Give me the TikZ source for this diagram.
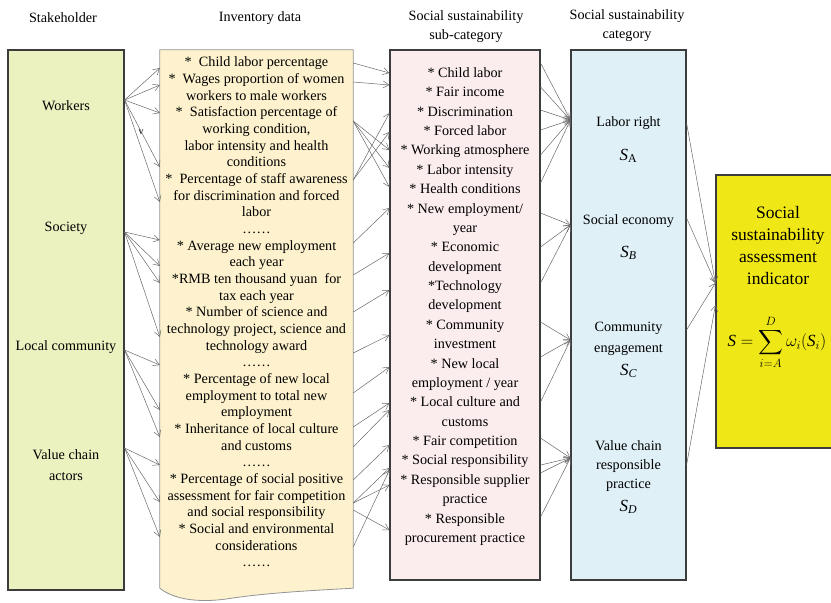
\documentclass[tikz,border=0pt]{standalone}
\usepackage{amsmath}
\usepackage{fontspec}
\setmainfont{Liberation Serif}
\usetikzlibrary{arrows.meta,positioning,calc}
\definecolor{stakegreen}{RGB}{236,241,192}
\definecolor{invyellow}{RGB}{253,242,205}
\definecolor{subpink}{RGB}{251,236,237}
\definecolor{catblue}{RGB}{223,240,246}
\definecolor{indyellow}{RGB}{240,232,22}
\definecolor{linegray}{RGB}{105,105,105}
\definecolor{boxgray}{RGB}{60,60,60}
\newcommand{\moredots}{.\kern1.2pt.\kern1.2pt.\kern1.2pt.\kern1.2pt.\kern1.2pt.}

\begin{document}
\begin{tikzpicture}[x=1pt, y=-1pt, >={Straight Barb[length=6pt,width=7pt]},
    box/.style={draw=boxgray, line width=1.1pt, inner sep=0pt},
    head/.style={align=center, font=\fontsize{14.2}{19}\selectfont},
    lbl/.style={align=center, font=\fontsize{14.2}{20}\selectfont},
    sym/.style={font=\fontsize{17}{20}\selectfont},
    link/.style={->, linegray, line width=0.5pt}]
    \useasboundingbox (0,0) rectangle (831,603);

    \node[head] (hstake) at (63,18) {Stakeholder};
    \node[head] (hinv) at (260,18) {Inventory data};
    \node[head] (hsub) at (466,26.5) {Social sustainability\\sub-category};
    \node[head] (hcat) at (627,26) {Social sustainability\\category};

    \node[box, fill=stakegreen, minimum width=116, minimum height=540] (stake) at (66,320) {};
    \node[minimum width=193, minimum height=538, inner sep=0pt] (inv) at (256.5,319) {};
    \draw[draw=gray!85, line width=0.8pt, fill=invyellow] (inv.south west) -- (inv.north west) -- (inv.north east) -- (inv.south east)
      .. controls +(-55,3) and +(35,-5) .. ($(inv.south)+(-25,10)$)
      .. controls +(-30,5) and +(15,12) .. (inv.south west) -- cycle;
    \node[box, fill=subpink, minimum width=150, minimum height=530] (sub) at (465,315) {};
    \node[box, fill=catblue, minimum width=115, minimum height=530] (cat) at (628.5,315) {};
    \node[box, fill=indyellow, minimum width=124, minimum height=273] (final) at (778,311.5) {};

    \node[lbl] (workers) at (66,106) {Workers};
    \node[lbl] (society) at (66,228) {Society};
    \node[lbl] (local) at (66,347) {Local community};
    \node[lbl, font=\fontsize{14.2}{21}\selectfont] (value) at (66,465.5) {Value chain\\actors};
    \node[font=\fontsize{10}{12}\selectfont] (vmark) at (141,132) {v};

    \node[align=center, font=\fontsize{14.2}{16.67}\selectfont] (invtext) at (256.5,312) {%
      *\ \ Child labor percentage\\
      *\ \ Wages proportion of women\\ workers to male workers\\
      *\ \ Satisfaction percentage of\\ working condition,\\ labor intensity and health\\ conditions\\
      *\ \ Percentage of staff awareness\\ for discrimination and forced\\ labor\\
      \moredots\\
      * Average new employment\\ each year\\
      *RMB ten thousand yuan\ \ for\\ tax each year\\
      * Number of science and\\ technology project, science and\\ technology award\\
      \moredots\\
      * Percentage of new local\\ employment to total new\\ employment\\
      * Inheritance of local culture\\ and customs\\
      \moredots\\
      * Percentage of social positive\\ assessment for fair competition\\ and social responsibility\\
      * Social and environmental\\ considerations\\
      \moredots};

    \node[align=center, font=\fontsize{14.2}{19.375}\selectfont] (subtext) at (465,306.5) {%
      * Child labor\\ * Fair income\\ * Discrimination\\ * Forced labor\\
      * Working atmosphere\\ * Labor intensity\\ * Health conditions\\
      * New employment/\\ year\\ * Economic\\ development\\ *Technology\\ development\\
      * Community\\ investment\\ * New local\\ employment / year\\
      * Local culture and\\ customs\\ * Fair competition\\ * Social responsibility\\
      * Responsible supplier\\ practice\\ * Responsible\\ procurement practice};

    \node[lbl] (labor) at (628.5,123) {Labor right};
    \node[sym] (sa) at (628.5,156) {$\mathit{S}_{\mathrm{A}}$};
    \node[lbl] (econ) at (628.5,221) {Social economy};
    \node[sym] (sb) at (628.5,253) {$\mathit{S}_{\mathit{B}}$};
    \node[lbl, font=\fontsize{14.2}{21}\selectfont] (comm) at (628.5,338.5) {Community\\engagement};
    \node[sym] (sc) at (628.5,371) {$\mathit{S}_{\mathit{C}}$};
    \node[lbl, font=\fontsize{14.2}{19}\selectfont] (vcp) at (628.5,466) {Value chain\\responsible\\practice};
    \node[sym] (sd) at (628.5,507) {$\mathit{S}_{\mathit{D}}$};

    \node[align=center, font=\fontsize{17.5}{22}\selectfont] (ind) at (778,246) {Social\\sustainability\\assessment\\indicator};
    \node[font=\fontsize{17}{20}\selectfont, inner sep=1pt] (formula) at (777,342) {$\displaystyle \mathit{S}=\sum_{i=A}^{D}\omega_i(\mathit{S}_i)$};

    \foreach \s/\t in {100/68, 100/85, 100/113, 100/167, 100/202, 232/240, 232/266, 232/283, 232/337,
                       350/365, 350/410, 350/437, 448/465, 448/502, 448/537}
      \draw[link] (stake.east |- 0,\s) -- (inv.west |- 0,\t);

    \foreach \s/\t in {63/73, 82/85, 121/150, 121/168, 121/187, 180/113, 180/132, 243/208, 275/253,
                       312/290, 353/335, 393/367, 427/403, 447/410, 480/445, 503/468, 503/485, 510/530, 547/470}
      \draw[link] (inv.east |- 0,\s) -- (sub.west |- 0,\t);

    \foreach \s/\t in {63/120, 87/120, 110/120, 130/120, 155/120, 183/120, 213/225, 247/225, 283/225,
                       322/340, 357/340, 402/340, 438/458, 465/458, 473/458, 517/458}
      \draw[link] (sub.east |- 0,\s) -- (cat.west |- 0,\t);

    \foreach \s/\t in {123/283, 218/283, 330/283, 465/305}
      \draw[link] (cat.east |- 0,\s) -- (final.west |- 0,\t);
\end{tikzpicture}
\end{document}
